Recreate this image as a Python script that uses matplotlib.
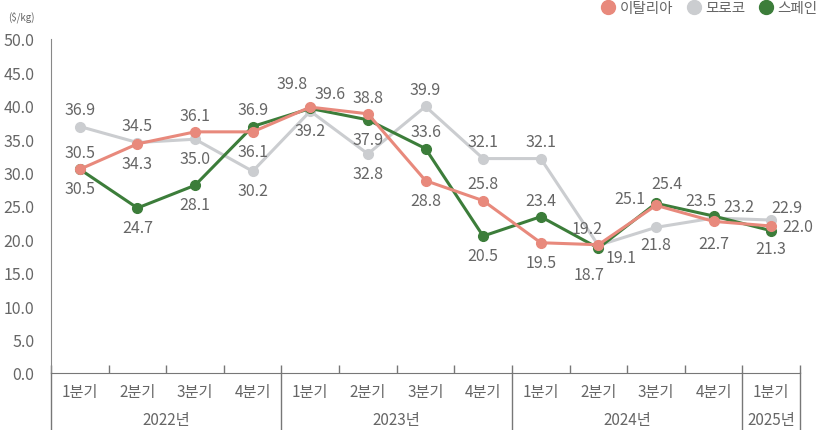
import numpy as np
import matplotlib
matplotlib.use("Agg")
import matplotlib.pyplot as plt
from matplotlib.lines import Line2D

plt.rcParams['font.family'] = ['Noto Sans CJK KR', 'DejaVu Sans']

# données
quarters = ["1분기", "2분기", "3분기", "4분기"] * 3 + ["1분기"]
years = ["2022년", "2023년", "2024년", "2025년"]
year_quarters = [4, 4, 4, 1]

italy = [30.5, 34.3, 36.1, 36.1, 39.8, 38.8, 28.8, 25.8, 19.5, 19.2, 25.1, 22.7, 22.0]
morocco = [36.9, 34.5, 35.0, 30.2, 39.2, 32.8, 39.9, 32.1, 32.1, 19.1, 21.8, 23.2, 22.9]
spain = [30.5, 24.7, 28.1, 36.9, 39.6, 37.9, 33.6, 20.5, 23.4, 18.7, 25.4, 23.5, 21.3]

series_names = ["이탈리아", "모로코", "스페인"]
colors = ["#E8897C", "#CBCDD0", "#3C7D3A"]

# position des étiquettes (points)
U, D = (0, 12), (0, -14)
offsets = {
    "이탈리아": [U, D, U, D, (-13, 17), U, D, U, D, (-8, 12), (-19, 5), (0, -16), (19, 0)],
    "모로코": [U, U, D, D, D, D, U, U, U, (16, -9), (0, -12), (18, 8), (11, 9)],
    "스페인": [D, D, D, U, (14, 11), D, U, D, U, (-7, -19), (8, 14), (-9, 11), (0, -13)],
}

grey = "#666666"
fig = plt.figure(figsize=(8.35, 4.31), dpi=100)
ax = fig.add_axes([51 / 835, 57 / 431, 749 / 835, 334 / 431])

x = np.arange(len(quarters)) + 0.5
order = [("모로코", morocco, colors[1]), ("스페인", spain, colors[2]), ("이탈리아", italy, colors[0])]
for name, vals, c in order:
    ax.plot(x, vals, color=c, lw=2.2, marker="o", ms=7, zorder=3, clip_on=False)
    for xi, v, off in zip(x, vals, offsets[name]):
        ax.annotate(f"{v:.1f}", (xi, v), xytext=off, textcoords="offset points",
                    ha="center", va="center", fontsize=11.5, color=grey, zorder=5)

ax.set_xlim(0, len(quarters))
ax.set_ylim(0, 50)
ax.set_yticks(np.arange(0, 50.1, 5))
ax.set_yticklabels([f"{v:.1f}" for v in np.arange(0, 50.1, 5)], fontsize=11.5, color=grey)
ax.tick_params(axis="y", length=0, pad=12)
ax.set_xticks(np.arange(0, len(quarters) + 1))
ax.set_xticklabels([])
ax.tick_params(axis="x", direction="in", length=6, color="#777777", width=1)

for s in ["top", "right"]:
    ax.spines[s].set_visible(False)
ax.spines["left"].set_color("#888888")
ax.spines["bottom"].set_color("#777777")

# libellés de l'axe x
for xi, q in zip(x, quarters):
    ax.text(xi, -0.055, q, transform=ax.get_xaxis_transform(), ha="center", va="center",
            fontsize=11, color=grey)

bounds = np.concatenate([[0], np.cumsum(year_quarters)])
for i, y in enumerate(years):
    mid = (bounds[i] + bounds[i + 1]) / 2
    ax.text(mid, -0.14, y, transform=ax.get_xaxis_transform(), ha="center", va="center",
            fontsize=11, color=grey)
for b in bounds:
    ax.plot([b, b], [0, -0.18], transform=ax.get_xaxis_transform(), color="#777777",
            lw=1, clip_on=False)

fig.text(8 / 835, 1 - 17 / 431, "($/kg)", fontsize=7, color=grey, va="center")

handles = [Line2D([], [], marker="o", ls="", color=c, ms=10) for c in colors]
fig.legend(handles, series_names, loc="upper right", bbox_to_anchor=(0.995, 1.025), ncol=3,
           frameon=False, fontsize=10.5, handlelength=0.8, handletextpad=0.4,
           columnspacing=1.0, labelcolor=grey)

fig.savefig("out.png", dpi=100)
